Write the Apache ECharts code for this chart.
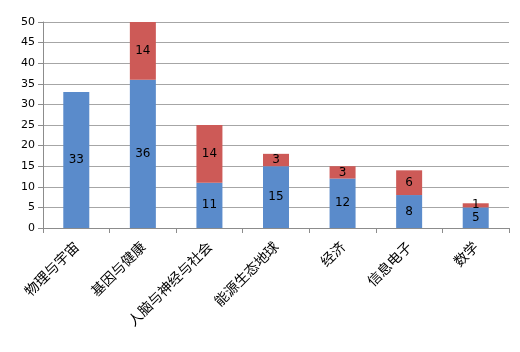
<!DOCTYPE html>
<html>
<head>
<meta charset="utf-8">
<script src="https://cdn.jsdelivr.net/npm/echarts@6/dist/echarts.min.js"></script>
<style>
  html, body { margin: 0; padding: 0; background: #fff; }
  #chart { width: 520px; height: 352px; }
</style>
</head>
<body>
<div id="chart"></div>
<script>
let categories = ['物理与宇宙', '基因与健康', '人脑与神经与社会', '能源生态地球', '经济', '信息电子', '数学'];
let blueVals = [33, 36, 11, 15, 12, 8, 5];
let redVals = [0, 14, 14, 3, 3, 6, 1];

let chart = echarts.init(document.getElementById('chart'));

let lbl = {
  show: true,
  position: 'inside',
  color: '#000',
  fontSize: 12,
  fontFamily: 'DejaVu Sans',
  formatter: p => (p.value ? p.value : '')
};

chart.setOption({
  animation: false,
  grid: { left: 43, right: 11, top: 22, bottom: 124 },
  xAxis: {
    type: 'category',
    data: categories,
    axisLine: { lineStyle: { color: '#8c8c8c' } },
    axisTick: { show: true, alignWithLabel: false, length: 5, lineStyle: { color: '#8c8c8c' } },
    axisLabel: {
      rotate: 45,
      interval: 0,
      margin: 16,
      color: '#000',
      fontSize: 14,
      fontFamily: 'Noto Sans CJK SC'
    }
  },
  yAxis: {
    type: 'value',
    min: 0,
    max: 50,
    interval: 5,
    axisLine: { show: true, lineStyle: { color: '#8c8c8c' } },
    axisTick: { show: true, length: 5, lineStyle: { color: '#8c8c8c' } },
    splitLine: { lineStyle: { color: '#a6a6a6' } },
    axisLabel: { color: '#000', fontSize: 11, fontFamily: 'DejaVu Sans', margin: 8 }
  },
  series: [{
    name: 'A',
    type: 'bar',
    stack: 'total',
    barWidth: 26,
    data: blueVals,
    itemStyle: { color: '#5a8bcb' },
    label: lbl
  },
  {
    name: 'B',
    type: 'bar',
    stack: 'total',
    barWidth: 26,
    data: redVals,
    itemStyle: { color: '#cd5a57' },
    label: lbl
  }
  ]
});
</script>
</body>
</html>
